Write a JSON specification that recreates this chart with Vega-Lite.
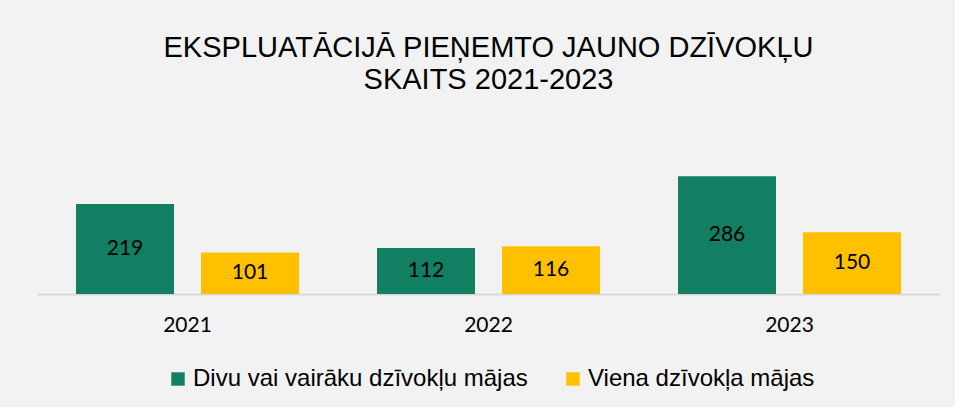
{
  "$schema": "https://vega.github.io/schema/vega-lite/v6.json",
  "width": 903,
  "height": 144,
  "autosize": {"type": "none"},
  "padding": {"left": 37, "top": 150, "right": 15, "bottom": 113},
  "background": "#f2f2f2",
  "config": {"view": {"stroke": null}},
  "title": {
    "text": ["EKSPLUATĀCIJĀ PIEŅEMTO JAUNO DZĪVOKĻU", "SKAITS 2021-2023"],
    "font": "Liberation Sans",
    "fontSize": 29,
    "fontWeight": "normal",
    "color": "#000000",
    "lineHeight": 32,
    "offset": 55,
    "anchor": "middle"
  },
  "data": {
    "values": [
      {"year": "2021", "series": "Divu vai vairāku dzīvokļu mājas", "value": 219},
      {"year": "2021", "series": "Viena dzīvokļa mājas", "value": 101},
      {"year": "2022", "series": "Divu vai vairāku dzīvokļu mājas", "value": 112},
      {"year": "2022", "series": "Viena dzīvokļa mājas", "value": 116},
      {"year": "2023", "series": "Divu vai vairāku dzīvokļu mājas", "value": 286},
      {"year": "2023", "series": "Viena dzīvokļa mājas", "value": 150}
    ]
  },
  "layer": [
    {
      "mark": {"type": "bar"},
      "encoding": {
        "x": {
          "field": "year", "type": "nominal",
          "scale": {"paddingInner": 0, "paddingOuter": 0},
          "axis": {
            "title": null, "ticks": false, "labelAngle": 0,
            "labelFont": "Lato", "labelFontSize": 21, "labelColor": "#000000",
            "labelPadding": 20, "domainColor": "#d9d9d9", "domainWidth": 2
          }
        },
        "xOffset": {
          "field": "series", "type": "nominal",
          "scale": {"paddingInner": 0.216, "paddingOuter": 0.312}
        },
        "y": {
          "field": "value", "type": "quantitative",
          "scale": {"domain": [0, 350]},
          "axis": null
        },
        "color": {
          "field": "series", "type": "nominal",
          "scale": {"range": ["#127f63", "#ffc000"]},
          "legend": {
            "title": null,
            "orient": "none",
            "direction": "horizontal",
            "legendX": 129,
            "legendY": 217,
            "padding": 0,
            "symbolType": "square",
            "symbolSize": 180,
            "symbolStrokeWidth": 0,
            "labelFont": "Liberation Sans",
            "labelFontSize": 24,
            "labelColor": "#000000",
            "labelOffset": 3,
            "columnPadding": 33,
            "labelLimit": 500
          }
        }
      }
    },
    {
      "mark": {"type": "text", "baseline": "middle", "font": "Lato", "fontSize": 21, "color": "#000000"},
      "encoding": {
        "x": {"field": "year", "type": "nominal"},
        "xOffset": {"field": "series", "type": "nominal"},
        "y": {
          "field": "value", "type": "quantitative",
          "scale": {"domain": [0, 700]},
          "axis": null
        },
        "text": {"field": "value", "type": "quantitative"}
      }
    }
  ],
  "resolve": {"scale": {"y": "independent"}}
}
